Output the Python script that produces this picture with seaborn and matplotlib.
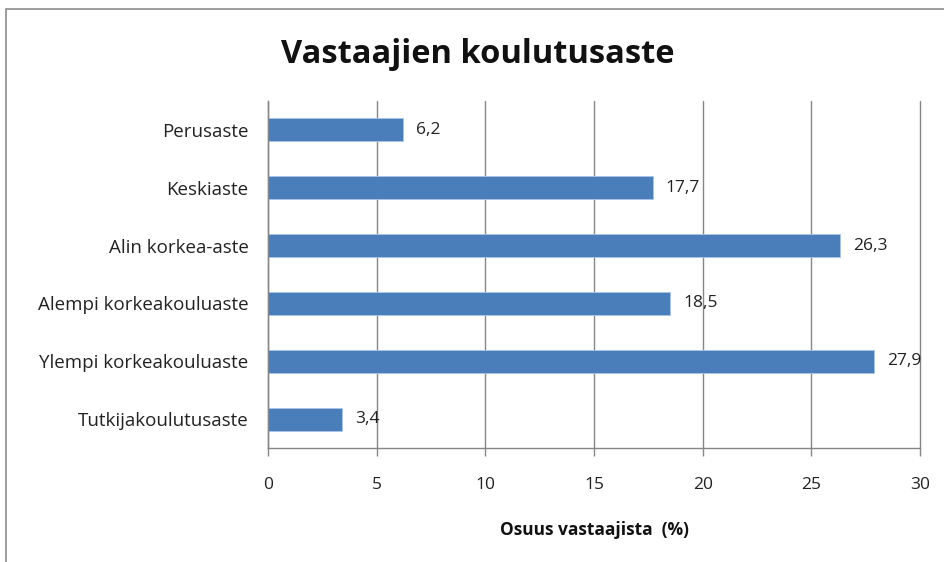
import matplotlib
matplotlib.use("Agg")
import matplotlib.pyplot as plt
import matplotlib.patches as patches
import seaborn as sns
import pandas as pd

# Data
categories = ["Perusaste", "Keskiaste", "Alin korkea-aste", "Alempi korkeakouluaste",
              "Ylempi korkeakouluaste", "Tutkijakoulutusaste"]
values = [6.2, 17.7, 26.3, 18.5, 27.9, 3.4]
x_ticks = [0, 5, 10, 15, 20, 25, 30]

df = pd.DataFrame({"koulutus": categories, "osuus": values})

sns.set_style("white")
plt.rcParams["font.family"] = ["Open Sans", "DejaVu Sans"]

fig = plt.figure(figsize=(9.44, 5.62), dpi=100)
ax = fig.add_axes([0.2839, 0.2028, 0.6907, 0.6175])

sns.barplot(data=df, x="osuus", y="koulutus", orient="h", color="#4a7ebb",
            width=0.4, edgecolor="#a9c4e6", linewidth=0.6, saturation=1, ax=ax)

# value labels with decimal comma
for i, v in enumerate(values):
    ax.text(v + 0.6, i, f"{v:.1f}".replace(".", ","), va="center", ha="left",
            fontsize=12.5, color="#222222")

ax.set_xlim(0, 30)
ax.set_xticks(x_ticks)
ax.set_xticklabels([str(t) for t in x_ticks], fontsize=12.5, color="#222222")
ax.tick_params(axis="y", labelsize=13.5, labelcolor="#222222")
ax.set_ylim(5.5, -0.5)

ax.xaxis.grid(True, color="#868686", linewidth=1)
for gl in ax.get_xgridlines():
    gl.set_clip_on(False)
ax.set_axisbelow(True)
for s in ["top", "right"]:
    ax.spines[s].set_visible(False)
for s in ["left", "bottom"]:
    ax.spines[s].set_color("#868686")
    ax.spines[s].set_linewidth(1)
ax.tick_params(axis="both", direction="out", length=6, color="#868686", width=1,
               bottom=True, left=True)
ax.tick_params(axis="x", pad=15)
ax.tick_params(axis="y", pad=14)
# y ticks between categories like the original
ax.set_yticks([i - 0.5 for i in range(7)], minor=True)
ax.tick_params(axis="y", which="major", length=0)
ax.tick_params(axis="y", which="minor", length=6, color="#868686", width=1, direction="out")

ax.set_ylabel("")
ax.set_xlabel("")
fig.text(594 / 944, 1 - 530 / 562, "Osuus vastaajista  (%)", ha="center", va="center",
         fontsize=12.5, fontweight="bold", color="#111111")

fig.text(478 / 944, 1 - 63 / 562, "Vastaajien koulutusaste", ha="center", va="baseline",
         fontsize=23.5, fontweight="bold", color="#111111")

# outer chart border (cropped on right and bottom in the original)
fig.patches.append(patches.Rectangle((6 / 944, -0.1), 1.2, 1 - 9 / 562 + 0.1,
                                     transform=fig.transFigure, fill=False,
                                     edgecolor="#8c8c8c", linewidth=1.2))

fig.savefig("out.png", dpi=100, facecolor="white")
plt.close(fig)
